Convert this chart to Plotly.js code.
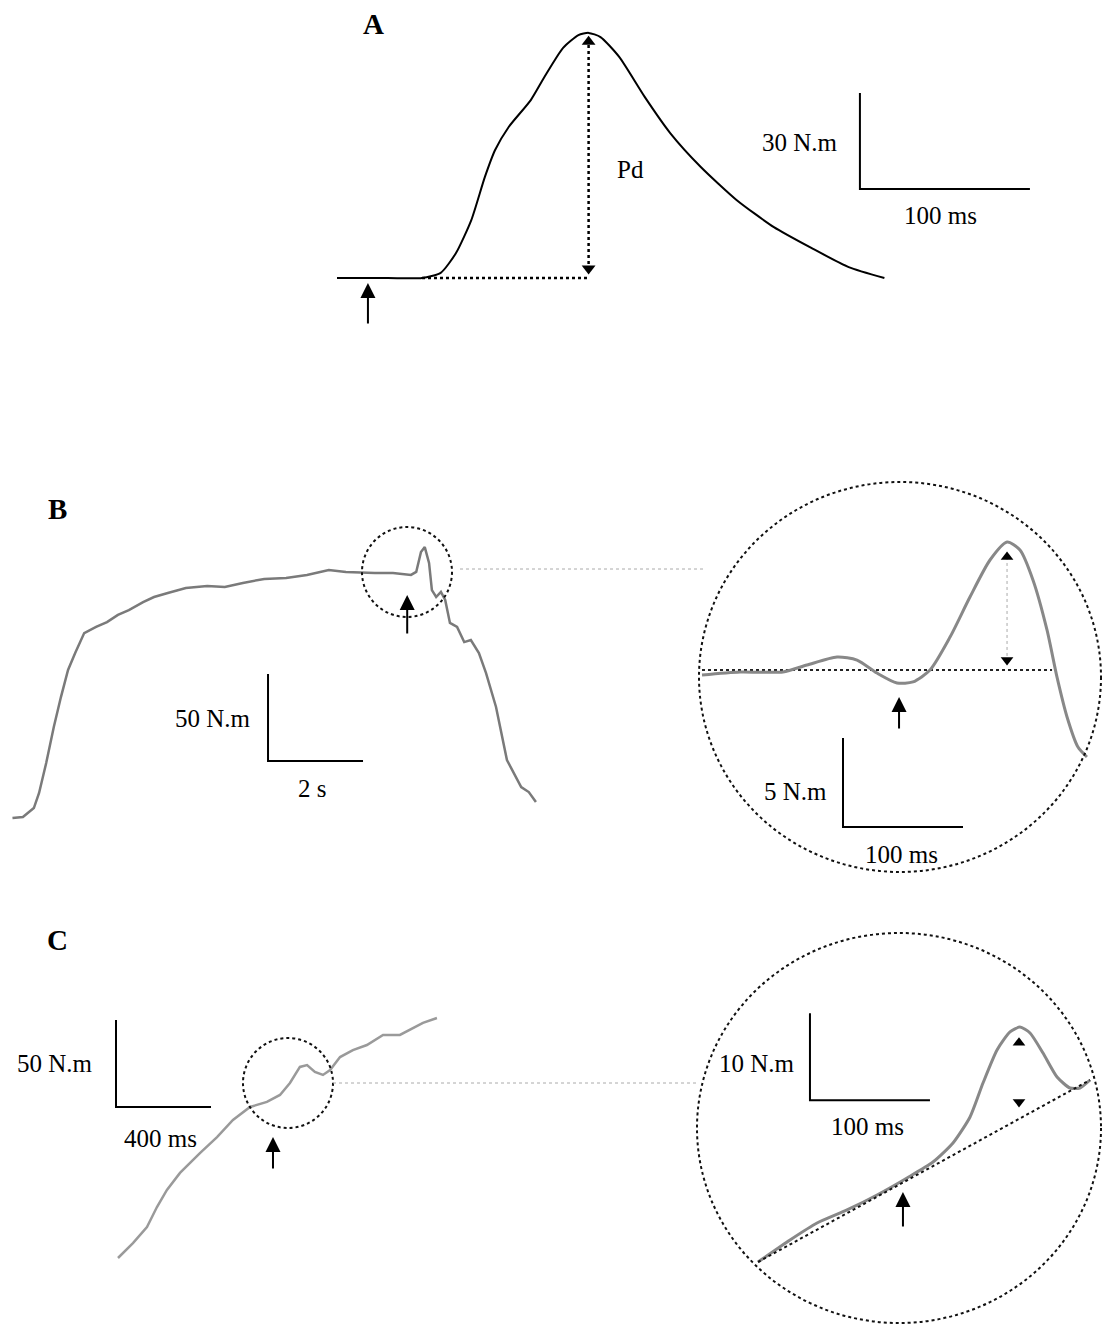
<!DOCTYPE html>
<html>
<head>
<meta charset="utf-8">
<script src="https://cdn.plot.ly/plotly-3.0.1.min.js"></script>
<style>
  html, body { margin: 0; padding: 0; background: white; }
  #chart { width: 1103px; height: 1324px; }
</style>
</head>
<body>
<div id="chart"></div>
<script>
// Panel A: torque burst (ms, N.m)
let aTime   = [0, 30, 50, 61, 70, 79, 87, 93, 101, 114, 122, 133, 142, 148, 155, 166, 181, 196, 214, 235, 257, 279, 301, 322];
let aTorque = [0, 0, 0, 1.6, 7.8, 18.1, 31.6, 40, 47.2, 55.6, 62.8, 71.9, 75.9, 76.6, 75.3, 69.1, 56.6, 45.3, 34.7, 24.4, 15.9, 9.4, 3.4, 0];

// Panel B: whole contraction (s, N.m)
let bTime   = [0.01, 0.23, 0.46, 0.57, 0.72, 0.88, 1.03, 1.18, 1.33, 1.52, 1.77, 2.00, 2.23, 2.46, 2.76, 2.99, 3.28, 3.66, 4.11, 4.48, 4.86, 5.31, 5.77, 6.21, 6.67, 7.03, 7.64, 8.02, 8.40, 8.51, 8.61, 8.69, 8.78, 8.84, 8.93, 9.03, 9.12, 9.22, 9.37, 9.52, 9.66, 9.83, 9.98, 10.19, 10.42, 10.57, 10.72, 10.88, 11.03];
let bTorque = [0, 0.6, 5.7, 14.4, 31.6, 52.3, 69.5, 85.1, 94.8, 106.3, 109.8, 112.6, 116.7, 119.5, 124.1, 127.0, 129.3, 132.2, 133.3, 132.8, 135.1, 137.4, 137.9, 139.7, 142.5, 141.4, 140.8, 140.8, 139.7, 141.4, 152.9, 155.7, 146.6, 131.0, 127.0, 129.9, 125.3, 112.1, 109.8, 101.1, 102.3, 94.8, 83.3, 63.8, 33.3, 25.9, 17.8, 14.9, 9.2];

// Panel B, magnified (ms, N.m)
let bzTime   = [0, 31.7, 67.5, 87.5, 112.5, 129.2, 145.8, 162.5, 175.8, 190, 206.7, 223.3, 240, 254.2, 265, 275.8, 287.5, 295.8, 304.2, 313.3, 320.8];
let bzTorque = [-0.28, -0.11, -0.11, 0.28, 0.73, 0.56, -0.17, -0.73, -0.67, 0, 1.85, 4.10, 6.18, 7.19, 6.74, 5.06, 2.25, -0.39, -2.64, -4.33, -4.89];
let bzBase   = [0, 291.7];
let bzPeak   = [6.35, 0.56];

// Panel C: rising contraction (ms, N.m)
let cTime   = [0, 63, 122, 164, 206, 261, 345, 417, 484, 556, 627, 682, 724, 766, 796, 829, 863, 893, 935, 989, 1048, 1116, 1187, 1229, 1284, 1343];
let cTorque = [0, 8.6, 17.8, 29.3, 39.1, 48.9, 60.3, 69.5, 79.3, 86.8, 89.7, 93.7, 100.6, 109.8, 110.9, 106.9, 105.2, 108.0, 115.5, 119.5, 122.4, 128.2, 128.2, 131.0, 135.1, 137.9];

// Panel C, magnified (ms, N.m)
let czTime   = [0, 26.7, 49.2, 74.2, 99.2, 124.2, 145.8, 162.5, 176.7, 187.5, 199.2, 210, 218.3, 226.7, 237.5, 249.2, 260, 268.3, 276.7];
let czTorque = [0, 2.53, 4.48, 5.98, 7.70, 9.66, 11.49, 13.68, 16.67, 20.57, 24.37, 26.44, 27.01, 26.32, 24.02, 21.26, 20.0, 20.0, 20.92];
let czBaseTime   = [0, 276.7];
let czBaseTorque = [0, 20.92];
let czPeak       = [25.2, 18.4];

// Scale bars per panel: time and torque lengths
let scaleTime   = [100, 2, 100, 400, 100];
let scaleTorque = [30, 50, 5, 50, 10];
let scaleTimeLabels   = ['100 ms', '2 s', '100 ms', '400 ms', '100 ms'];
let scaleTorqueLabels = ['30 N.m', '50 N.m', '5 N.m', '50 N.m', '10 N.m'];

// Page geometry
const W = 1103, H = 1324;
// origin pixel and pixels per unit for each panel
const panels = [
    { ox: 337, oy: 278,  sx: 1.7,    sy: 3.2,  corner: [307.6, 27.8] },
    { ox: 12,  oy: 818,  sx: 47.5,   sy: 1.74, corner: [5.39, 32.8] },
    { ox: 702, oy: 670,  sx: 1.2,    sy: 17.8, corner: [117.5, -8.82] },
    { ox: 118, oy: 1258, sx: 0.2375, sy: 1.74, corner: [-8.4, 86.8] },
    { ox: 758, oy: 1262, sx: 1.2,    sy: 8.7,  corner: [43.3, 18.6] }
];
// label positions in px: [torque label, time label]
const scaleLabelPos = [
    [[800, 143], [940, 216]],
    [[213, 718], [312, 789]],
    [[795, 791], [901, 854]],
    [[55, 1063], [160, 1138]],
    [[757, 1063], [867, 1126]]
];

const px = (x) => x / W;
const py = (y) => 1 - y / H;
const serif = 'Liberation Serif, Times New Roman, serif';

function axisName(i, letter) {
    return letter + 'axis' + (i === 0 ? '' : (i + 1));
}
function axisRef(i, letter) {
    return letter + (i === 0 ? '' : (i + 1));
}

let layout = {
    width: W,
    height: H,
    margin: { l: 0, r: 0, t: 0, b: 0, pad: 0 },
    paper_bgcolor: 'white',
    plot_bgcolor: 'rgba(0,0,0,0)',
    showlegend: false,
    font: { family: serif, size: 25, color: 'black' },
    shapes: [],
    annotations: []
};

panels.forEach((p, i) => {
    layout[axisName(i, 'x')] = {
        domain: [0, 1],
        range: [-p.ox / p.sx, (W - p.ox) / p.sx],
        visible: false,
        fixedrange: true,
        anchor: axisRef(i, 'y')
    };
    layout[axisName(i, 'y')] = {
        domain: [0, 1],
        range: [(p.oy - H) / p.sy, p.oy / p.sy],
        visible: false,
        fixedrange: true,
        anchor: axisRef(i, 'x')
    };
});

let traces = [];

function line(i, x, y, color, width, dash, shape, smoothing) {
    traces.push({
        x: x, y: y,
        xaxis: axisRef(i, 'x'), yaxis: axisRef(i, 'y'),
        mode: 'lines', type: 'scatter', hoverinfo: 'none',
        line: { color: color, width: width, dash: dash || 'solid', shape: shape || 'linear', smoothing: smoothing || 0.7 }
    });
}

function heads(i, t, up, down, size) {
    traces.push({
        x: [t, t], y: [up, down],
        xaxis: axisRef(i, 'x'), yaxis: axisRef(i, 'y'),
        mode: 'markers', type: 'scatter', hoverinfo: 'none',
        marker: { symbol: ['triangle-up', 'triangle-down'], size: size, color: 'black' }
    });
}

function text(str, x, y, size) {
    layout.annotations.push({
        xref: 'paper', yref: 'paper', x: px(x), y: py(y),
        xanchor: 'center', yanchor: 'middle',
        text: str, showarrow: false, font: { size: size || 25 }
    });
}

// Panel A
line(0, [50, 148], [0, 0], 'black', 2.5, 'dot');
line(0, [148, 148], [2.5, 74.5], 'black', 2.5, 'dot');
line(0, aTime, aTorque, 'black', 2, 'solid', 'spline', 0.6);
heads(0, 148, 73.8, 3, 12);

// Panel B
line(1, bTime, bTorque, '#7a7a7a', 2.5);

// Panel B magnified
line(2, bzBase, [0, 0], '#222', 2, 'dot');
line(2, [254.2, 254.2], bzPeak, '#aaa', 1, 'dot');
line(2, bzTime, bzTorque, '#888888', 3, 'solid', 'spline', 0.7);
heads(2, 254.2, bzPeak[0], bzPeak[1], 11);

// Panel C
line(3, cTime, cTorque, '#9a9a9a', 2.5);

// Panel C magnified
line(4, czTime, czTorque, '#888888', 3, 'solid', 'spline', 0.6);
line(4, czBaseTime, czBaseTorque, '#111', 2, 'dot');
heads(4, 217.5, czPeak[0], czPeak[1], 11);

// Scale bars
panels.forEach((p, i) => {
    let t0 = p.corner[0], f0 = p.corner[1];
    line(i, [t0, t0, t0 + scaleTime[i]], [f0 + scaleTorque[i], f0, f0], 'black', 2);
    let lp = scaleLabelPos[i];
    text(scaleTorqueLabels[i], lp[0][0], lp[0][1]);
    text(scaleTimeLabels[i], lp[1][0], lp[1][1]);
});

// Panel letters and Pd
text('<b>A</b>', 373, 24, 29);
text('<b>B</b>', 57, 509, 29);
text('<b>C</b>', 57, 940, 29);
text('Pd', 630, 170);

// Onset arrows: [panel, time, torque at head, length px]
[[0, 18.2, -1.6, 42], [1, 8.32, 128.2, 40], [2, 164.2, -1.52, 33], [3, 652.6, 69.5, 33], [4, 120.8, 8.05, 36]].forEach(a => {
    layout.annotations.push({
        xref: axisRef(a[0], 'x'), yref: axisRef(a[0], 'y'), x: a[1], y: a[2],
        ax: 0, ay: a[3], text: '', showarrow: true,
        arrowhead: 2, arrowsize: 1.5, arrowwidth: 2, arrowcolor: 'black'
    });
});

// Zoom circles and connectors (px)
const circles = [
    { cx: 407, cy: 572,  rx: 45,  ry: 45 },
    { cx: 900, cy: 677,  rx: 201, ry: 195 },
    { cx: 288, cy: 1083, rx: 45,  ry: 45 },
    { cx: 899, cy: 1128, rx: 202, ry: 195 }
];
circles.forEach(c => {
    layout.shapes.push({
        type: 'circle', xref: 'paper', yref: 'paper',
        x0: px(c.cx - c.rx), x1: px(c.cx + c.rx), y0: py(c.cy + c.ry), y1: py(c.cy - c.ry),
        line: { color: '#111', width: 2, dash: 'dot' }
    });
});
[[460, 569, 705, 569], [333, 1083, 697, 1083]].forEach(s => {
    layout.shapes.push({
        type: 'line', xref: 'paper', yref: 'paper',
        x0: px(s[0]), y0: py(s[1]), x1: px(s[2]), y1: py(s[3]),
        line: { color: '#aaa', width: 1, dash: 'dot' }
    });
});

Plotly.newPlot('chart', traces, layout, { displayModeBar: false, staticPlot: true });
</script>
</body>
</html>
